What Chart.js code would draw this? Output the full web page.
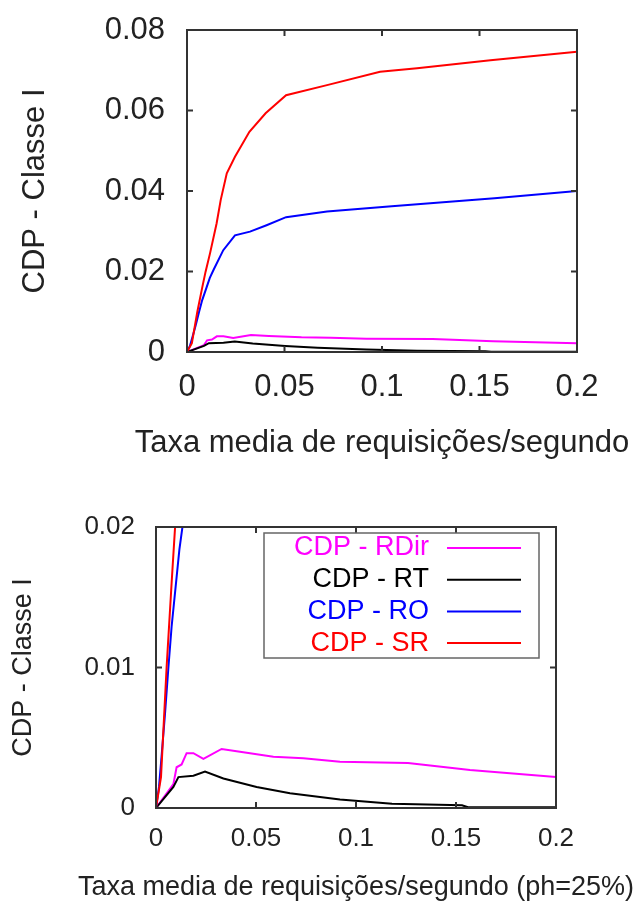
<!DOCTYPE html>
<html>
<head>
<meta charset="utf-8">
<script src="https://cdn.jsdelivr.net/npm/chart.js@4.4.1/dist/chart.umd.min.js"></script>
<style>
  html, body { margin: 0; padding: 0; background: #fff; }
  #wrap { position: relative; width: 640px; height: 902px; }
  canvas { position: absolute; left: 0; }
  #top { top: 0; }
  #bottom { top: 460px; }
</style>
</head>
<body>
<div id="wrap">
  <canvas id="top" width="640" height="460"></canvas>
  <canvas id="bottom" width="640" height="442"></canvas>
</div>
<script>
// Series (x = taxa media, y = CDP)
const rdirX = [0, 0.0087, 0.0103, 0.0128, 0.0153, 0.0187, 0.0237, 0.0328, 0.042, 0.0587, 0.0737, 0.092, 0.126, 0.157, 0.2];
const rdirY = [0, 0.0017, 0.0029, 0.0031, 0.0039, 0.0039, 0.0035, 0.0042, 0.0040, 0.00365, 0.00354, 0.0033, 0.0032, 0.0027, 0.0022];

const rtX = [0, 0.0087, 0.0112, 0.0187, 0.0245, 0.0337, 0.0503, 0.067, 0.092, 0.118, 0.153, 0.156, 0.2];
const rtY = [0, 0.0015, 0.0022, 0.0023, 0.0026, 0.0021, 0.0015, 0.00105, 0.0006, 0.0003, 0.0002, 0.00005, 0.00005];

const roX = [0, 0.0015, 0.0028, 0.0045, 0.0062, 0.0078, 0.0100, 0.0117, 0.0137, 0.0186, 0.0246, 0.0323, 0.0408, 0.0508, 0.0718, 0.105, 0.1346, 0.1577, 0.2];
const roY = [0, 0.0015, 0.0037, 0.0067, 0.0100, 0.0129, 0.0160, 0.0184, 0.0205, 0.0253, 0.0290, 0.0299, 0.0315, 0.0335, 0.0349, 0.0362, 0.0373, 0.0382, 0.0400];

const srX = [0, 0.0025, 0.0053, 0.0078, 0.0095, 0.0118, 0.0152, 0.0173, 0.0204, 0.0246, 0.032, 0.0403, 0.0508, 0.0718, 0.099, 0.118, 0.1556, 0.2];
const srY = [0, 0.0022, 0.0100, 0.0160, 0.0199, 0.0245, 0.0320, 0.0378, 0.0444, 0.0485, 0.0547, 0.0593, 0.0638, 0.0663, 0.0696, 0.0705, 0.0725, 0.0746];

const seriesLabels = ['CDP - RDir', 'CDP - RT', 'CDP - RO', 'CDP - SR'];
const seriesColors = ['#ff00ff', '#000000', '#0000ff', '#ff0000'];

const xTicks = [0, 0.05, 0.1, 0.15, 0.2];
const yTicksTop = [0, 0.02, 0.04, 0.06, 0.08];
const yTicksBottom = [0, 0.01, 0.02];

const yTitle = 'CDP - Classe I';
const xTitleTop = 'Taxa media de requisições/segundo';
const xTitleBottom = 'Taxa media de requisições/segundo (ph=25%)';

const FONT = "'Liberation Sans', Arial, sans-serif";
const TEXT = '#222';

const zip = (xs, ys) => xs.map((x, i) => ({ x: x, y: ys[i] }));

const makeDatasets = () => {
    const pairs = [[rdirX, rdirY], [rtX, rtY], [roX, roY], [srX, srY]];
    return pairs.map((p, i) => ({
        label: seriesLabels[i],
        data: zip(p[0], p[1]),
        borderColor: seriesColors[i],
        borderWidth: 2,
        pointRadius: 0,
        tension: 0,
        fill: false,
        order: 4 - i
    }));
};

// gnuplot style frame with inward ticks
const framePlugin = {
    id: 'frame',
    afterDatasetsDraw(chart) {
        const { ctx, chartArea: a, scales } = chart;
        ctx.save();
        ctx.strokeStyle = '#333';
        ctx.lineWidth = 2;
        const len = 6;
        ctx.beginPath();
        scales.x.ticks.forEach(t => {
            const px = scales.x.getPixelForValue(t.value);
            ctx.moveTo(px, a.bottom); ctx.lineTo(px, a.bottom - len);
            ctx.moveTo(px, a.top); ctx.lineTo(px, a.top + len);
        });
        scales.y.ticks.forEach(t => {
            const py = scales.y.getPixelForValue(t.value);
            ctx.moveTo(a.left, py); ctx.lineTo(a.left + len, py);
            ctx.moveTo(a.right, py); ctx.lineTo(a.right - len, py);
        });
        ctx.stroke();
        ctx.strokeRect(a.left, a.top, a.right - a.left, a.bottom - a.top);
        ctx.restore();
    }
};

// x title drawn by hand: the built-in one gets squeezed to the plot width
const xTitlePlugin = {
    id: 'xTitle',
    afterDraw(chart, args, opts) {
        const { ctx, chartArea: a } = chart;
        ctx.save();
        ctx.font = opts.size + 'px ' + FONT;
        ctx.fillStyle = TEXT;
        ctx.textAlign = 'center';
        ctx.textBaseline = 'middle';
        ctx.fillText(opts.text, (a.left + a.right) / 2, opts.y);
        ctx.restore();
    }
};

// gnuplot style key: right aligned text, sample line on the right
const keyPlugin = {
    id: 'key',
    afterDraw(chart, args, opts) {
        if (!opts.show) return;
        const { ctx, chartArea: a } = chart;
        const right = a.right - 17;
        const top = a.top + 6;
        const w = 275, h = 125;
        ctx.save();
        ctx.strokeStyle = '#666';
        ctx.lineWidth = 1.5;
        ctx.strokeRect(right - w, top, w, h);
        ctx.font = '27px ' + FONT;
        ctx.textAlign = 'right';
        ctx.textBaseline = 'middle';
        chart.data.datasets.forEach((ds, i) => {
            const y = top + 15 + i * 31.7;
            ctx.fillStyle = ds.borderColor;
            ctx.fillText(ds.label, right - 110, y);
            ctx.strokeStyle = ds.borderColor;
            ctx.lineWidth = 2;
            ctx.beginPath();
            ctx.moveTo(right - 92, y);
            ctx.lineTo(right - 18, y);
            ctx.stroke();
        });
        ctx.restore();
    }
};

const buildChart = (canvasId, cfg) => {
    const ctx = document.getElementById(canvasId).getContext('2d');
    return new Chart(ctx, {
        type: 'line',
        data: { datasets: makeDatasets() },
        options: {
            responsive: false,
            animation: false,
            devicePixelRatio: 1,
            layout: { padding: { top: cfg.padTop, right: cfg.padRight, left: 0, bottom: 0 } },
            plugins: {
                legend: { display: false },
                tooltip: { enabled: false },
                xTitle: { text: cfg.xTitle, size: cfg.titleSize, y: cfg.xTitleY },
                key: { show: cfg.withKey }
            },
            scales: {
                x: {
                    type: 'linear',
                    min: 0,
                    max: 0.2,
                    grid: { display: false, drawTicks: false },
                    border: { display: false },
                    afterBuildTicks: s => { s.ticks = xTicks.map(v => ({ value: v })); },
                    afterFit: s => { s.height = cfg.xHeight; s.paddingLeft = 0; s.paddingRight = 0; },
                    ticks: {
                        autoSkip: false,
                        maxRotation: 0,
                        padding: cfg.xTickPad,
                        color: TEXT,
                        font: { family: FONT, size: cfg.tickSize },
                        callback: v => String(v)
                    }
                },
                y: {
                    min: 0,
                    max: cfg.yMax,
                    grid: { display: false, drawTicks: false },
                    border: { display: false },
                    afterBuildTicks: s => { s.ticks = cfg.yTicks.map(v => ({ value: v })); },
                    afterFit: s => { s.width = cfg.yWidth; s.paddingTop = 0; s.paddingBottom = 0; },
                    ticks: {
                        padding: cfg.yTickPad,
                        color: TEXT,
                        font: { family: FONT, size: cfg.tickSize },
                        callback: v => String(v)
                    },
                    title: {
                        display: true,
                        text: yTitle,
                        color: TEXT,
                        font: { family: FONT, size: cfg.titleSize, lineHeight: 1 },
                        padding: { top: cfg.yTitlePad, bottom: 0 }
                    }
                }
            }
        },
        plugins: [framePlugin, xTitlePlugin, keyPlugin]
    });
};

buildChart('top', {
    padTop: 30, padRight: 63, xHeight: 108, yWidth: 187,
    yMax: 0.08, yTicks: yTicksTop,
    tickSize: 31, titleSize: 31,
    xTickPad: 17, yTickPad: 22, yTitlePad: 19.5,
    xTitle: xTitleTop, xTitleY: 443, withKey: false
});

buildChart('bottom', {
    padTop: 67, padRight: 84, xHeight: 94, yWidth: 156,
    yMax: 0.02, yTicks: yTicksBottom,
    tickSize: 26, titleSize: 27,
    xTickPad: 15, yTickPad: 21, yTitlePad: 10.5,
    xTitle: xTitleBottom, xTitleY: 428, withKey: true
});
</script>
</body>
</html>
